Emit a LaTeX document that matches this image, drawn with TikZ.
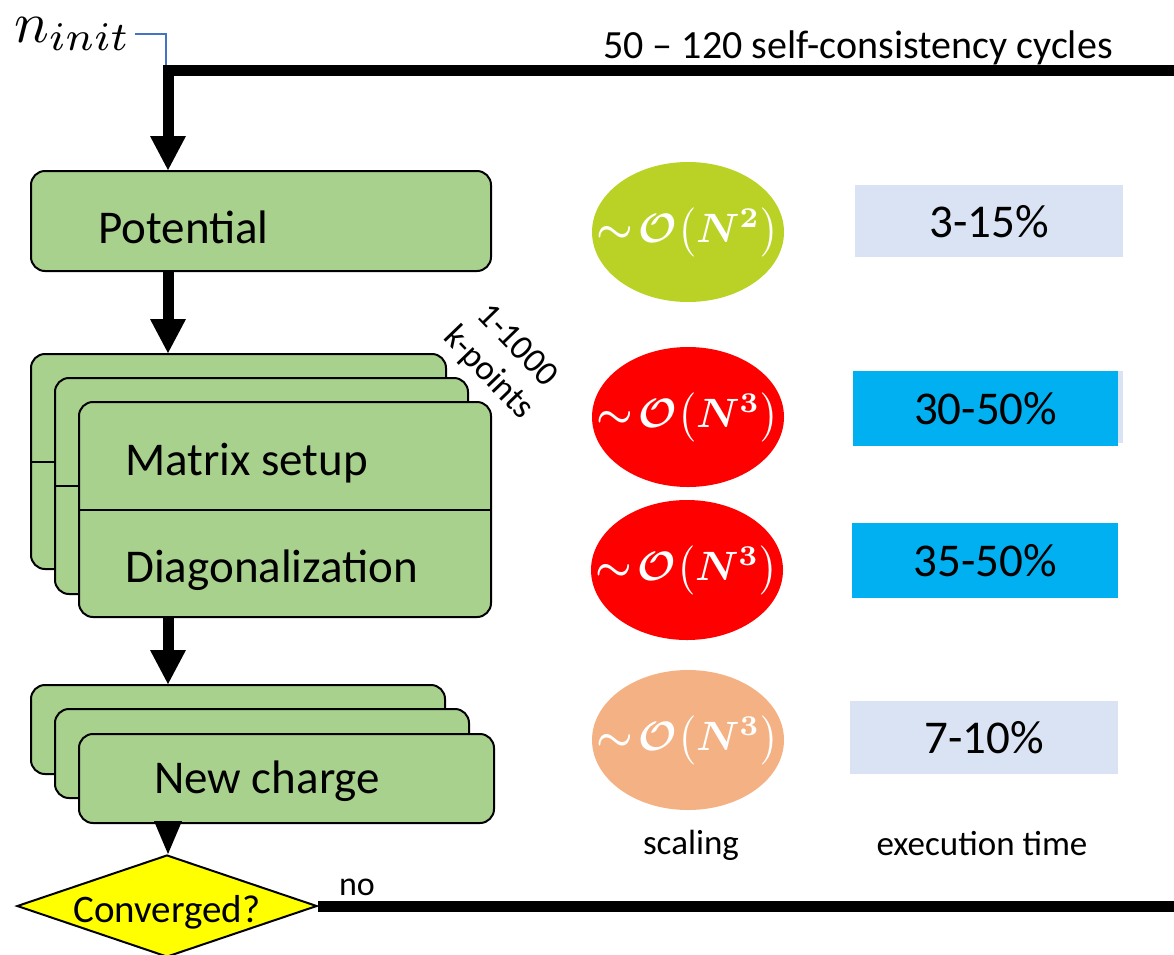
\documentclass[tikz,border=0pt]{standalone}
\usepackage{fontspec}
\setmainfont{Carlito}
\usetikzlibrary{arrows.meta,shapes.geometric,calc}
\definecolor{boxgreen}{HTML}{A9D18E}
\definecolor{ellgreen}{HTML}{B9D225}
\definecolor{ellred}{HTML}{FF0000}
\definecolor{ellsalmon}{HTML}{F4B183}
\definecolor{skyb}{HTML}{00B0F0}
\definecolor{lav}{HTML}{DAE3F3}
\definecolor{blueln}{HTML}{4472C4}
\definecolor{diayellow}{HTML}{FFFF00}
\begin{document}
\begin{tikzpicture}[x=1pt,y=-1pt,
  gbox/.style={draw=black,line width=2pt,fill=boxgreen,rounded corners=14pt,inner sep=0pt,anchor=north west},
  divider/.style={draw=black,line width=2pt},
  flow/.style={line width=11pt,-{Triangle[length=34pt,width=36pt,line width=0pt]}},
  loopline/.style={line width=11pt},
  blueline/.style={draw=blueln,line width=1.5pt},
  lbl/.style={font=\fontsize{47}{56}\selectfont,anchor=base west,inner sep=0pt},
  ell/.style={ellipse,minimum width=192pt,minimum height=140pt,inner sep=0pt},
  etext/.style={text=white,font=\boldmath,inner sep=0pt,scale=4.1},
  pct/.style={inner sep=0pt,anchor=north west,font=\fontsize{47}{56}\selectfont},
  small/.style={inner sep=0pt,anchor=base}
  ]
\useasboundingbox (0,0) rectangle (1174,954);

% n_init and blue line
\node[inner sep=0pt,anchor=base west,scale=5.8] (ninit) at (13,42) {$n_{init}$};
\coordinate (bl1) at (135,34);
\coordinate (bl2) at (166,112);

% Potential
\node[gbox,minimum width=460pt,minimum height=100pt] (pot) at (30,170) {};
\node[lbl] (pott) at (98,243) {Potential};

% Matrix setup / Diagonalization stack
\node[gbox,minimum width=415pt,minimum height=215pt] (mb1) at (30,353) {};
\draw[divider] (mb1.west) -- (mb1.east);
\node[gbox,minimum width=413pt,minimum height=216pt] (mb2) at (54,377) {};
\draw[divider] (mb2.west) -- (mb2.east);
\node[gbox,minimum width=412pt,minimum height=215pt] (mb3) at (78,401) {};
\draw[divider] (mb3.west) -- (mb3.east);
\node[lbl] (mst) at (125,475) {Matrix setup};
\node[lbl] (dgt) at (125,582) {Diagonalization};

\node[inner sep=0pt,rotate=-46,align=center,font=\fontsize{35}{40}\selectfont] (kp) at (502,360) {1-1000\\k-points};

% New charge stack
\node[gbox,minimum width=414pt,minimum height=89pt] (nb1) at (30,684) {};
\node[gbox,minimum width=414pt,minimum height=89pt] (nb2) at (54,708) {};
\node[gbox,minimum width=415pt,minimum height=89pt] (nb3) at (78,733) {};
\node[lbl,anchor=base] (nct) at (267,793) {New charge};

% Converged diamond
\node[diamond,draw=black,line width=2pt,fill=diayellow,minimum width=300pt,minimum height=102pt,inner sep=0pt] (conv) at (167,906) {};
\node[small,font=\fontsize{39}{46}\selectfont] (convt) at (167,922) {Converged?};
\node[small,font=\fontsize{34}{40}\selectfont] (no) at (357,895) {no};

% connectors
\coordinate (col) at (168,0);
\coordinate (loopR) at (1174,70);
\draw[blueline] (bl1) -| (bl2);
\draw[flow] (loopR) -| (pot.north -| col);
\draw[flow] (pot.south -| col) -- (mb1.north -| col);
\draw[flow] (mb3.south -| col) -- (nb1.north -| col);
\draw[line width=11pt,-{Triangle[length=33pt,width=28pt,line width=0pt]}] (nb3.south -| col) -- (conv.north -| col);
\draw[loopline] (conv.east) -- (conv.east -| loopR);

\node[small,font=\fontsize{40}{48}\selectfont] (cyc) at (858,58) {50 -- 120 self-consistency cycles};

% scaling ellipses
\node[ell,fill=ellgreen] (e1) at (688,232) {};
\node[etext] (e1t) at (e1.center) {$\sim\!\mathcal{O}\big(N^{2}\big)$};
\node[ell,fill=ellred] (e2) at (688,417) {};
\node[etext] (e2t) at (e2.center) {$\sim\!\mathcal{O}\big(N^{3}\big)$};
\node[ell,fill=ellred] (e3) at (687,570) {};
\node[etext] (e3t) at (e3.center) {$\sim\!\mathcal{O}\big(N^{3}\big)$};
\node[ell,fill=ellsalmon] (e4) at (688,740) {};
\node[etext] (e4t) at (e4.center) {$\sim\!\mathcal{O}\big(N^{3}\big)$};

% execution time boxes
\node[pct,fill=lav,minimum width=268pt,minimum height=72pt] (p1) at (855,185) {3-15\%};
\node[pct,fill=lav,minimum width=270pt,minimum height=72pt] (p2b) at (853,371) {};
\node[pct,fill=skyb,minimum width=265pt,minimum height=75pt] (p2) at (853,371) {30-50\%};
\node[pct,fill=skyb,minimum width=266pt,minimum height=75pt] (p3) at (852,523) {35-50\%};
\node[pct,fill=lav,minimum width=268pt,minimum height=73pt] (p4) at (850,701) {7-10\%};

\node[small,font=\fontsize{35}{42}\selectfont] (scl) at (691,854) {scaling};
\node[small,font=\fontsize{35}{42}\selectfont] (ext) at (982,855) {execution time};
\end{tikzpicture}
\end{document}
